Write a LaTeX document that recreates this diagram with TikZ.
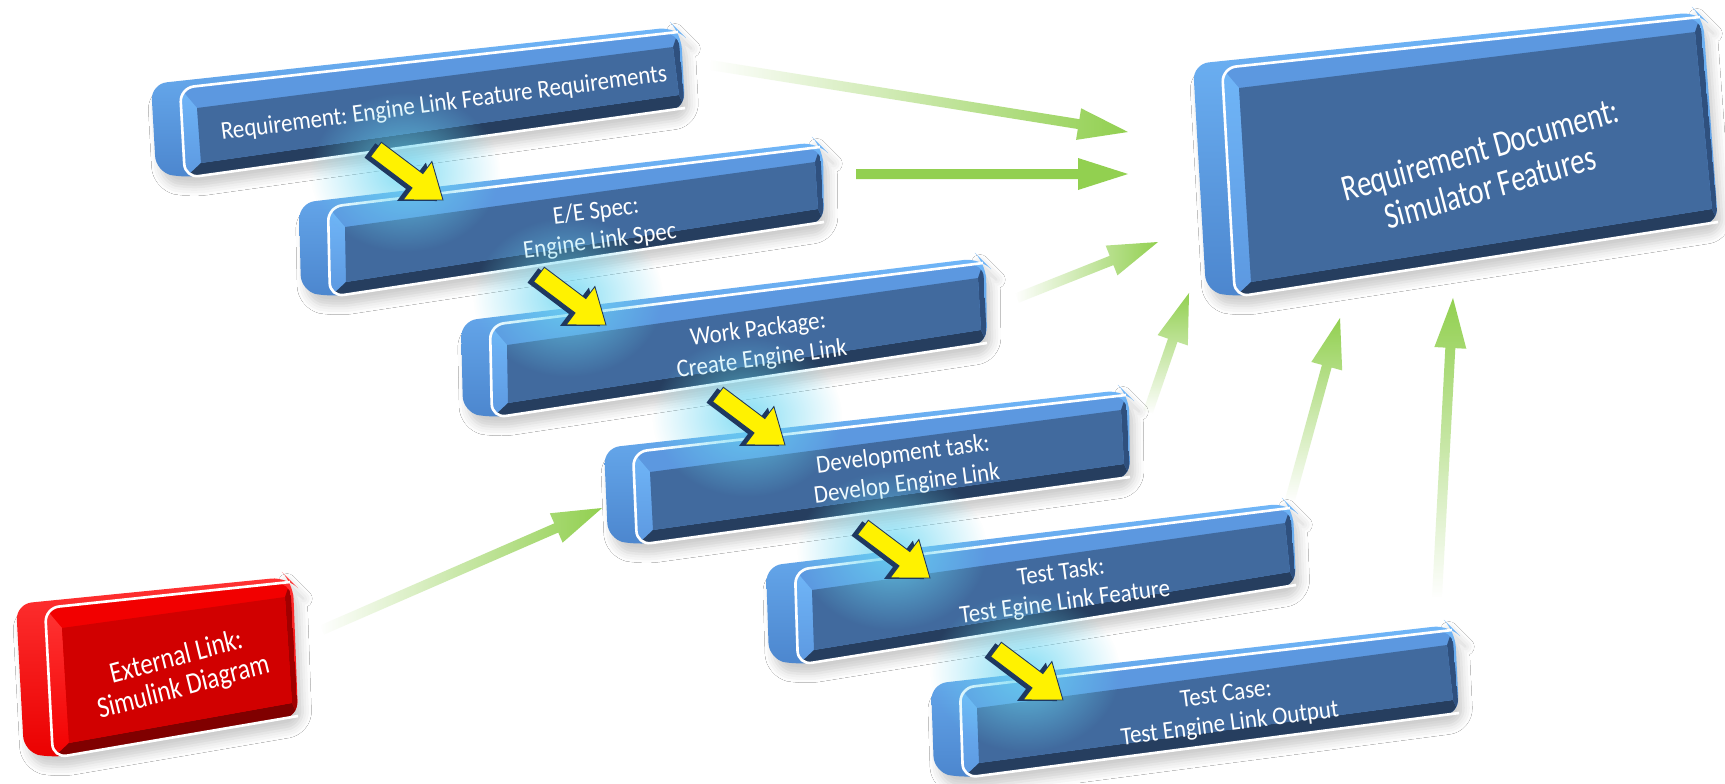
\documentclass[tikz,border=0pt]{standalone}
\usepackage{fontspec}
\setmainfont{Carlito}
\usepackage{tikz}
\usetikzlibrary{calc,fadings,shadows.blur}

\definecolor{faceblue}{RGB}{65,106,158}
\definecolor{bevelblue}{RGB}{92,152,224}
\definecolor{sidetop}{RGB}{112,182,248}
\definecolor{sidebot}{RGB}{76,134,206}
\definecolor{darkblue}{RGB}{38,62,95}
\definecolor{edgeblue}{RGB}{47,80,126}
\definecolor{arrowgreen}{RGB}{146,208,80}
\definecolor{glowcyan}{RGB}{105,214,242}
\definecolor{navy}{RGB}{31,56,96}

% current slab colours, blue unless changed in a scope
\colorlet{sface}{faceblue}
\colorlet{sbevel}{bevelblue}
\colorlet{sside1}{sidetop}
\colorlet{sside2}{sidebot}
\colorlet{sdark}{darkblue}
\colorlet{sedge}{edgeblue}

\tikzfading[name=tailfade, left color=transparent!100, middle color=transparent!0, right color=transparent!0]
\tikzfading[name=tailfade up, bottom color=transparent!100, middle color=transparent!0, top color=transparent!0]
\tikzfading[name=glowfade, inner color=transparent!0, outer color=transparent!100]

% 3d slab from the four corners of its front face
\newcommand{\slab}[5]{%
  \coordinate (#1-tl) at #2;
  \coordinate (#1-tr) at #3;
  \coordinate (#1-br) at #4;
  \coordinate (#1-bl) at #5;
  \path[slab side] ($(#1-tl)+(-29,-4)$) -- ($(#1-tr)+(-3,-5)$) -- ($(#1-tr)+(3,1)$)
    -- (#1-br) -- (#1-bl) -- ($(#1-bl)+(-29,-6)$) -- cycle;
  \begin{scope}
    \clip[rounded corners=8] (#1-tl) -- (#1-tr) -- (#1-br) -- (#1-bl) -- cycle;
    \fill[sbevel] (#1-tl) -- (#1-tr) -- (#1-br) -- (#1-bl) -- cycle;
    \shade[top color=sside1, bottom color=sbevel] (#1-tl) -- ($(#1-tl)+(17,20)$)
      -- ($(#1-bl)+(16,-15)$) -- (#1-bl) -- cycle;
    \fill[sdark] (#1-bl) -- (#1-br) -- ($(#1-br)+(-6,-13)$) -- ($(#1-bl)+(16,-15)$) -- cycle;
    \fill[sedge] (#1-tr) -- (#1-br) -- ($(#1-br)+(-6,-13)$) -- ($(#1-tr)+(-5,15)$) -- cycle;
    \fill[sface] ($(#1-tl)+(17,20)$) -- ($(#1-tr)+(-5,15)$) -- ($(#1-br)+(-6,-13)$)
      -- ($(#1-bl)+(16,-15)$) -- cycle;
  \end{scope}
  \draw[slab rim] (#1-br) -- (#1-bl) -- (#1-tl) -- (#1-tr);
}

% yellow link arrow, given by its tip
\newcommand{\linkarrow}[1]{%
  \fill[glowcyan, path fading=glowfade, fill opacity=0.8] ($#1+(-38,-28)$) ellipse (95 and 80);
  \fill[navy, shift={($#1+(-6,1)$)}, rotate=-37]
    (-84,-9) -- (-32,-9) -- (-32,-24) -- (0,0) -- (-32,24) -- (-32,9) -- (-84,9) -- cycle;
  \filldraw[yellowarrow, shift={#1}, rotate=-37]
    (-84,-9) -- (-32,-9) -- (-32,-24) -- (0,0) -- (-32,24) -- (-32,9) -- (-84,9) -- cycle;
}

% green arrow: fading, tail, tip
\newcommand{\greenarrow}[3]{%
  \coordinate (gbase) at ($(#3)!10mm!(#2)$);
  \fill[arrowgreen, #1] ($(#2)!1mm!90:(#3)$) -- ($(gbase)!1mm!-90:(#2)$)
    -- ($(gbase)!3.2mm!-90:(#2)$) -- (#3) -- ($(gbase)!3.2mm!90:(#2)$)
    -- ($(gbase)!1mm!90:(#2)$) -- ($(#2)!1mm!-90:(#3)$) -- cycle;
}

\begin{document}
\frenchspacing
\begin{tikzpicture}[x=0.2mm, y=-0.2mm,
    slab side/.style={top color=sside1, bottom color=sside2, rounded corners=9,
      blur shadow={shadow xshift=3pt, shadow yshift=-6pt, shadow blur radius=5pt, shadow opacity=20}},
    slab rim/.style={draw=white, line width=1.5pt, rounded corners=8},
    slabtext/.style={text=white, align=center, font=\fontsize{14.5}{17}\selectfont, rotate=7.5, xscale=0.9},
    doctext/.style={slabtext, font=\fontsize{21}{22}\selectfont, rotate=8, xscale=0.86},
    exttext/.style={slabtext, font=\fontsize{17}{17.5}\selectfont, rotate=7, xscale=0.93},
    yellowarrow/.style={fill=yellow, draw=navy, line width=0.5pt},
    fade tail/.style={path fading=tailfade},
    fade tail up/.style={path fading=tailfade up}]
  \useasboundingbox (0,0) rectangle (1725,783);
  \fill[white] (0,0) rectangle (1725,783);

  % work item chain
  \slab{req}{(180,88)}{(678,32)}{(685,108)}{(185,178)}
  \slab{spec}{(328,207)}{(820,147)}{(824,222)}{(330,297)}
  \slab{wp}{(490,325)}{(983,263)}{(987,343)}{(492,418)}
  \slab{dev}{(633,452)}{(1126,395)}{(1130,477)}{(637,545)}
  \slab{ttask}{(795,570)}{(1290,508)}{(1296,585)}{(798,665)}
  \slab{tcase}{(960,688)}{(1452,630)}{(1459,713)}{(963,778)}
  % document
  \slab{doc}{(1222,68)}{(1700,17)}{(1718,222)}{(1235,297)}
  % external link in red
  \begin{scope}
    \colorlet{sface}{red!82!black}
    \colorlet{sbevel}{red!95!black}
    \colorlet{sside1}{red!80!white}
    \colorlet{sside2}{red!92!black}
    \colorlet{sdark}{red!50!black}
    \colorlet{sedge}{red!63!black}
    \slab{ext}{(45,608)}{(290,582)}{(298,716)}{(53,758)}
  \end{scope}

  \node[slabtext] (req) at ($(req-tl)+(264,16)$) {Requirement: Engine Link Feature Requirements};
  \node[slabtext] (spec) at ($(spec-tl)+(270,20)$) {E/E Spec:\\Engine Link Spec};
  \node[slabtext] (wp) at ($(wp-tl)+(270,20)$) {Work Package:\\Create Engine Link};
  \node[slabtext] (dev) at ($(dev-tl)+(272,18)$) {Development task:\\Develop Engine Link};
  \node[slabtext] (ttask) at ($(ttask-tl)+(268,18)$) {Test Task:\\Test Egine Link Feature};
  \node[slabtext] (tcase) at ($(tcase-tl)+(268,22)$) {Test Case:\\Test Engine Link Output};
  \node[doctext] (doc) at (1485,168) {Requirement Document:\\Simulator Features};
  \node[exttext] (ext) at (180,673) {External Link:\\Simulink Diagram};

  % links down the chain
  \linkarrow{(443,200)}
  \linkarrow{(606,325)}
  \linkarrow{(785,445)}
  \linkarrow{(930,578)}
  \linkarrow{(1063,700)}

  % traces into the document
  \coordinate (req-out) at (710,65);
  \coordinate (doc-in1) at (1128,132);
  \coordinate (spec-out) at (856,174);
  \coordinate (doc-in2) at (1128,174);
  \coordinate (wp-out) at (1017,298);
  \coordinate (doc-in3) at (1158,242);
  \coordinate (dev-out) at (1148,412);
  \coordinate (doc-in4) at (1189,293);
  \coordinate (ttask-out) at (1290,500);
  \coordinate (doc-in5) at (1340,318);
  \coordinate (tcase-out) at (1437,597);
  \coordinate (doc-in6) at (1453,298);
  \coordinate (ext-out) at (322,630);
  \coordinate (dev-in) at (602,508);
  \greenarrow{fade tail}{req-out}{doc-in1}
  \greenarrow{}{spec-out}{doc-in2}
  \greenarrow{fade tail}{wp-out}{doc-in3}
  \greenarrow{fade tail up}{dev-out}{doc-in4}
  \greenarrow{fade tail up}{ttask-out}{doc-in5}
  \greenarrow{fade tail up}{tcase-out}{doc-in6}
  \greenarrow{fade tail}{ext-out}{dev-in}
\end{tikzpicture}
\end{document}
